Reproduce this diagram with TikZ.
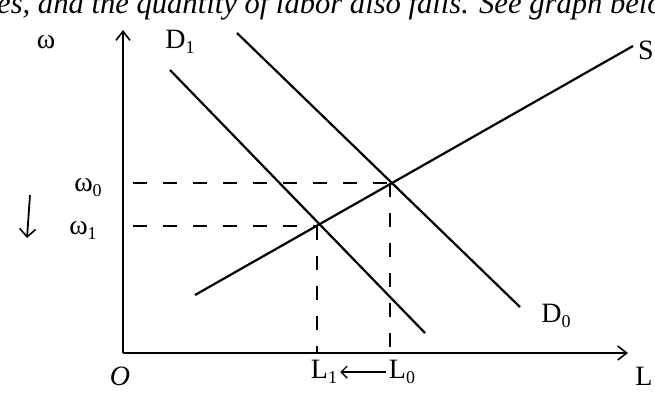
\documentclass[tikz,border=0pt]{standalone}
\usepackage{fontspec}
\setmainfont{Liberation Serif}
\usetikzlibrary{arrows.meta}
\begin{document}
\begin{tikzpicture}[x=1pt,y=-1pt,
  curve/.style={line width=2.2pt},
  axis/.style={line width=2.4pt,-{Straight Barb[length=9pt,width=14pt,line width=1.6pt]}},
  guide/.style={line width=1.4pt,dash pattern=on 14pt off 16pt},
  hand/.style={font=\fontsize{28}{28}\selectfont, inner sep=0pt}]
\clip (0,0) rectangle (655,392);
\useasboundingbox (0,0) rectangle (655,392);
% caption fragment
\node[font=\fontsize{30.6}{30.6}\selectfont\itshape, anchor=base west, inner sep=0pt] (cap) at (-3,13) {es, and the quantity of labor also falls. See graph below};
% axes
\coordinate (O) at (123,353);
\coordinate (ytop) at (123,30);
\coordinate (xend) at (628,353);
\draw[axis] (O) -- (ytop);
\draw[axis] (O) -- (xend);
% equilibrium points
\coordinate (E0) at (390,183);
\coordinate (E1) at (317,226);
\coordinate (w0ax) at (123,183);
\coordinate (w1ax) at (123,226);
\coordinate (L0ax) at (390,353);
\coordinate (L1ax) at (317,353);
% curves
\coordinate (S1) at (195,295);
\coordinate (S2) at (633,46);
\coordinate (D0a) at (237,33);
\coordinate (D0b) at (520,307);
\coordinate (D1a) at (170,70);
\coordinate (D1b) at (425,333);
\draw[curve] (S1) -- (S2);
\draw[curve] (D0a) -- (D0b);
\draw[curve] (D1a) -- (D1b);
% guides
\draw[guide] (w0ax) ++(10,0) -- (E0);
\draw[guide] (w1ax) ++(10,0) -- (E1);
\draw[guide] (E0) -- (L0ax);
\draw[guide] (E1) -- (L1ax);
% labels
\newcommand{\lowsub}[1]{\raisebox{-5pt}{\fontsize{18}{18}\selectfont #1}}
\node[hand] (wlab) at (46,42) {ω};
\node[hand] (D1lab) at (180,42) {D\lowsub{1}};
\node[hand] (Slab) at (646,50) {S};
\node[hand] (D0lab) at (556,316) {D\lowsub{0}};
\node[hand] (w0lab) at (88,188) {ω\lowsub{0}};
\node[hand] (w1lab) at (83,230) {ω\lowsub{1}};
\node[hand,font=\fontsize{28}{28}\selectfont\itshape] (Olab) at (120,376) {O};
\node[hand] (Llab) at (644,376) {L};
\node[hand] (L1lab) at (324,372) {L\lowsub{1}};
\node[hand] (L0lab) at (402,372) {L\lowsub{0}};
\draw[line width=1.8pt,-{Straight Barb[length=6pt,width=12pt,line width=1.4pt]}] ([xshift=-3pt]L0lab.west) -- ([xshift=3pt]L1lab.east);
\coordinate (dtop) at (30,195);
\coordinate (dbot) at (27,238);
\draw[line width=1.8pt,-{Straight Barb[length=8pt,width=16pt,line width=1.6pt]}] (dtop) -- (dbot);
\end{tikzpicture}
\end{document}
